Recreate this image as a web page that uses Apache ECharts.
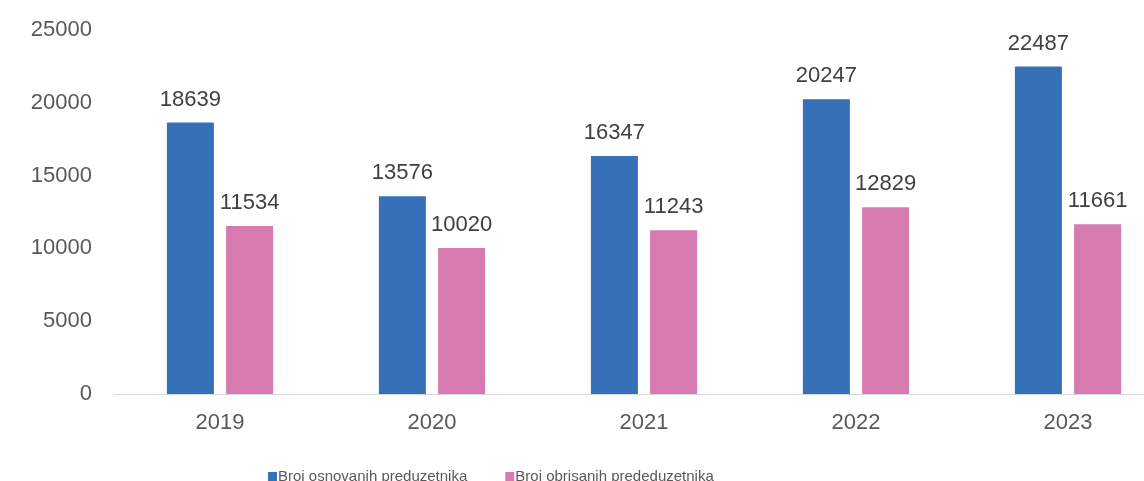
<!DOCTYPE html>
<html>
<head>
<meta charset="utf-8">
<script src="https://cdn.jsdelivr.net/npm/echarts@6/dist/echarts.min.js"></script>
<style>
  html, body { margin: 0; padding: 0; background: #fff; overflow: hidden; }
  /* chart is wider than the window: the original is cropped on the right */
  #chart { width: 1175px; height: 481px; }
</style>
</head>
<body>
<div id="chart"></div>
<script>
// podaci
const years = ['2019', '2020', '2021', '2022', '2023'];
const osnovani = [18639, 13576, 16347, 20247, 22487];
const obrisani = [11534, 10020, 11243, 12829, 11661];
const seriesNames = ['Broj osnovanih preduzetnika', 'Broj obrisanih prededuzetnika'];

const chart = echarts.init(document.getElementById('chart'), null, { renderer: 'canvas' });

const valueLabel = {
  show: true,
  position: 'top',
  distance: 12,
  color: '#404040',
  fontSize: 22,
  fontFamily: 'Liberation Sans'
};

chart.setOption({
  animation: false,
  grid: { left: 114, right: 1, top: 30, bottom: 87, containLabel: false },
  legend: {
    left: 268,
    top: 469,
    padding: 0,
    itemWidth: 9,
    itemHeight: 9,
    itemGap: 38,
    icon: 'rect',
    textStyle: { color: '#595959', fontSize: 15, fontFamily: 'Liberation Sans', padding: [0, 0, 0, -4] },
    data: seriesNames
  },
  xAxis: {
    type: 'category',
    data: years,
    axisLine: { lineStyle: { color: '#d9d9d9', width: 1 } },
    axisTick: { show: false },
    axisLabel: { color: '#595959', fontSize: 22, fontFamily: 'Liberation Sans', margin: 18 }
  },
  yAxis: {
    type: 'value',
    min: 0,
    max: 25000,
    interval: 5000,
    axisLine: { show: false },
    axisTick: { show: false },
    splitLine: { show: false },
    axisLabel: {
      color: '#595959', fontSize: 22, fontFamily: 'Liberation Sans', margin: 22,
      formatter: v => String(v)
    }
  },
  series: [
    {
      name: seriesNames[0],
      type: 'bar',
      data: osnovani,
      barWidth: 47,
      barGap: '26%',
      itemStyle: { color: '#3670b7' },
      label: valueLabel
    },
    {
      name: seriesNames[1],
      type: 'bar',
      data: obrisani,
      barWidth: 47,
      barGap: '26%',
      itemStyle: { color: '#d77ab0' },
      label: valueLabel
    }
  ]
});
</script>
</body>
</html>
